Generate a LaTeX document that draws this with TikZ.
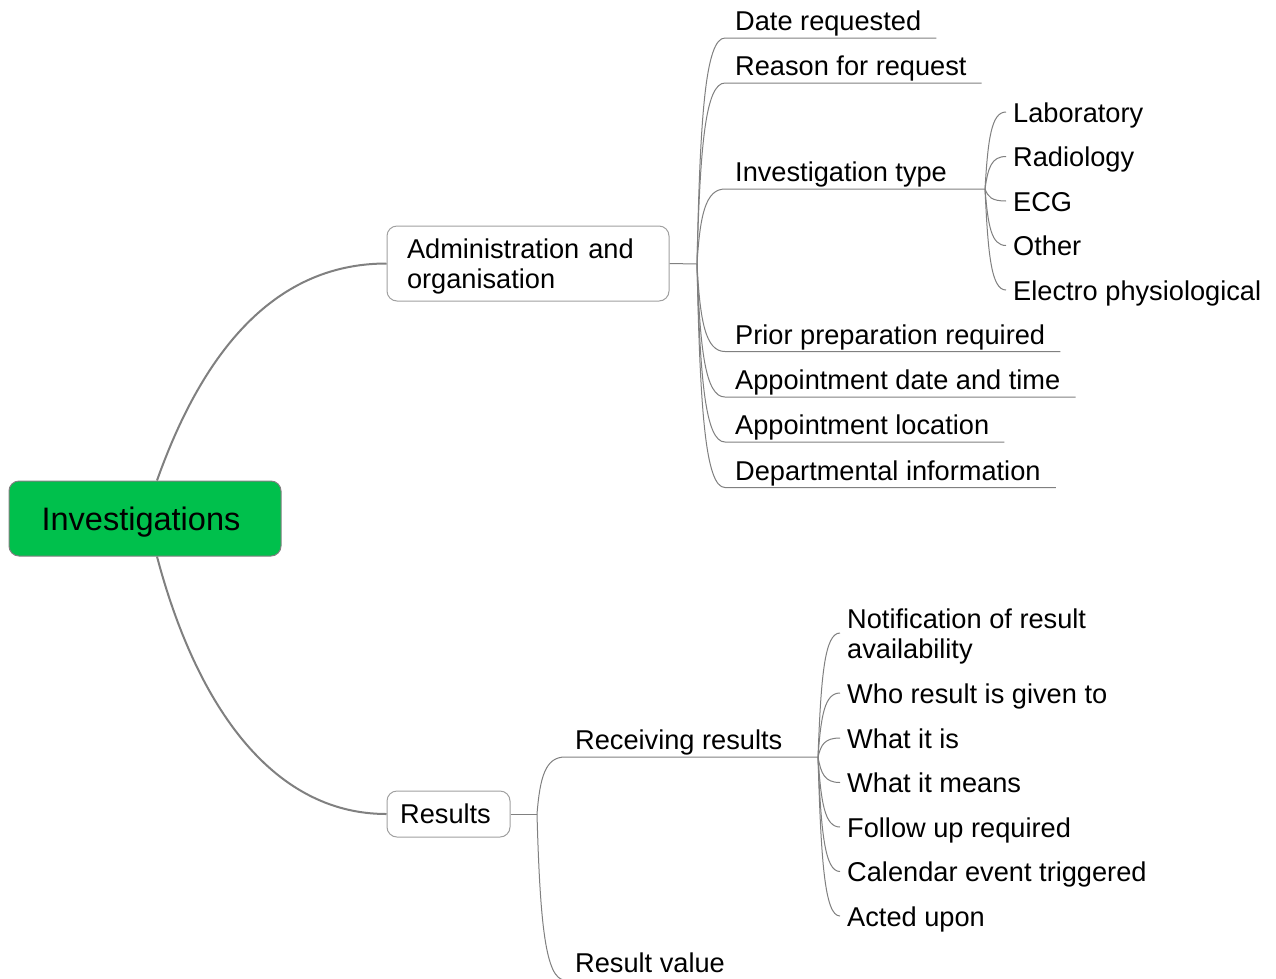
\documentclass[tikz,border=0pt]{standalone}
\usepackage{fontspec}
\setmainfont{Liberation Sans}
\usetikzlibrary{calc}
\definecolor{rootgreen}{RGB}{0,192,76}
\definecolor{linegray}{RGB}{128,128,128}
\definecolor{boxgray}{RGB}{160,160,160}
\begin{document}
\begin{tikzpicture}[x=1pt,y=-1pt,
  every node/.style={font=\fontsize{27.2}{30.5}\selectfont, text=black},
  mainlink/.style={draw=linegray, line width=2pt},
  thinlink/.style={draw=linegray, line width=1pt},
  branch/.style={to path={.. controls ($(\tikztostart)!0.65!(\tikztostart|-\tikztotarget)+(3,0)$) and ($(\tikztostart|-\tikztotarget)!0.3!(\tikztotarget)$) .. (\tikztotarget)}},
  topicbox/.style={draw=boxgray, line width=1pt, rounded corners=10pt, fill=white},
  uleaf/.style={anchor=south west, inner xsep=10pt, inner ysep=0pt, text height=20pt, text depth=7pt},
  kid/.style={anchor=west, inner xsep=7pt, inner ysep=0pt, text height=20pt, text depth=0pt},
]
\useasboundingbox (0,0) rectangle (1276,978);
\clip (0,0) rectangle (1276,978);
\fill[white] (0,0) rectangle (1276,978);

% central topic and the two main topics
\node[draw=linegray, line width=1pt, fill=rootgreen, rounded corners=10pt,
      minimum width=272pt, minimum height=75pt, inner sep=0pt,
      text height=31.6pt, text depth=6.8pt,
      font=\fontsize{32.5}{36}\selectfont] (root) at (145,518.5) {Investigations\hspace*{8pt}};
\node[topicbox, text width=242pt, align=left, inner xsep=20pt, inner ysep=0pt,
      minimum height=75pt] (admin) at (528,263.5) {\rule{0pt}{26pt}Administration and\\organisation};
\node[topicbox, minimum width=123pt, minimum height=46pt, inner sep=0pt]
      (results) at (448.5,814) {Results\hspace*{6pt}};

\draw[mainlink] ([xshift=12pt]root.north) .. controls +(43,-121) and +(-117,0) .. (admin.west);
\draw[mainlink] ([xshift=12pt]root.south) .. controls +(38,144) and +(-117,0) .. (results.west);

% administration branch
\coordinate (adminhub) at (697,264);
\draw[thinlink] (admin.east) -- (adminhub);

\node[uleaf] (date)   at (725,38)    {Date requested};
\node[uleaf] (reason) at (725,83)    {Reason for request};
\node[uleaf] (invtype) at (725,189)  {Investigation type};
\node[uleaf] (prior)  at (725,351.5) {Prior preparation required};
\node[uleaf] (apptdt) at (725,397)   {Appointment date and time};
\node[uleaf] (apptloc) at (725,442)  {Appointment location};
\node[uleaf] (dept)   at (725,487.5) {Departmental information};

\foreach \n in {date,reason,prior,apptdt,apptloc,dept}
  \draw[thinlink] (adminhub) to[branch] (\n.south west) -- ([xshift=5pt]\n.south east);

\coordinate (invhub) at (985,189);
\draw[thinlink] (adminhub) to[branch] (invtype.south west) -- (invhub);

\node[kid] (lab)   at (1006,112)   {Laboratory};
\node[kid] (radio) at (1006,156.5) {Radiology};
\node[kid] (ecg)   at (1006,201)   {ECG};
\node[kid] (other) at (1006,245.5) {Other};
\node[kid] (electro) at (1006,290) {Electro physiological};
\foreach \n in {lab,radio,ecg,other,electro}
  \draw[thinlink] (invhub) to[branch] (\n.west);

% results branch
\coordinate (resultshub) at (537,814);
\draw[thinlink] (results.east) -- (resultshub);

\node[uleaf] (recv)  at (565,757) {Receiving results};
\node[uleaf] (value) at (565,980) {Result value};
\coordinate (recvhub) at (818,757);
\draw[thinlink] (resultshub) to[branch] (recv.south west) -- (recvhub);
\draw[thinlink] (resultshub) to[branch] (value.south west) -- ([xshift=5pt]value.south east);

\node[anchor=north west, inner xsep=7pt, inner ysep=0pt, align=left]
      (notif) at (840,608.5) {Notification of result\\availability};
\draw[thinlink] (recvhub) to[branch] ([yshift=-24.5pt]notif.north west);

\node[kid] (who)     at (840,693)   {Who result is given to};
\node[kid] (whatis)  at (840,738)   {What it is};
\node[kid] (means)   at (840,782.5) {What it means};
\node[kid] (follow)  at (840,827)   {Follow up required};
\node[kid] (calendar) at (840,871.5) {Calendar event triggered};
\node[kid] (acted)   at (840,916)   {Acted upon};
\foreach \n in {who,whatis,means,follow,calendar,acted}
  \draw[thinlink] (recvhub) to[branch] (\n.west);
\end{tikzpicture}
\end{document}
